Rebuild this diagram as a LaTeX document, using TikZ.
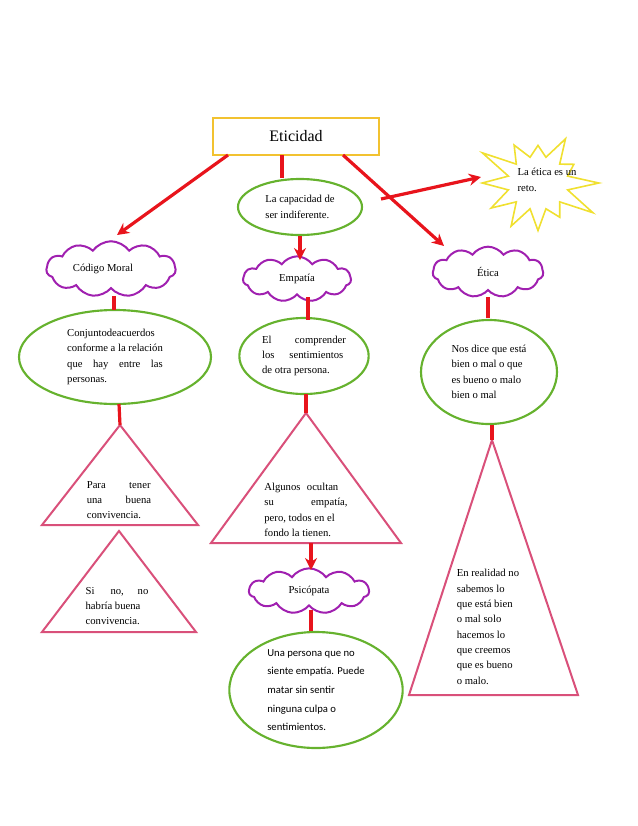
\documentclass[tikz,border=0pt]{standalone}
\usepackage{fontspec}
\setmainfont{Liberation Serif}
\newfontfamily\carl{Carlito}
\usetikzlibrary{shapes.geometric,shapes.symbols,arrows.meta}
\definecolor{gold}{HTML}{F2C230}
\definecolor{grn}{HTML}{66B22E}
\definecolor{purp}{HTML}{A020B0}
\definecolor{pink}{HTML}{D9507A}
\definecolor{rd}{HTML}{E8141C}
\definecolor{ylw}{HTML}{F0E030}
\begin{document}
\begin{tikzpicture}[x=0.75pt,y=-0.75pt,
  txt/.style={font=\fontsize{8}{11.5}\selectfont},
  ell/.style={ellipse,draw=grn,line width=1.6pt,inner sep=0pt,txt},
  cld/.style={cloud,cloud puffs=11,cloud puff arc=110,aspect=2.6,draw=purp,line width=1.5pt,inner sep=0pt,txt},
  tri/.style={draw=pink,line width=1.5pt,line join=miter},
  con/.style={draw=rd,line width=2.4pt},
  arr/.style={con,-{Stealth[length=9pt,width=9pt]}}]
\useasboundingbox (0,0) rectangle (638,826);
\node[draw=gold,line width=1.5pt,minimum width=124.5pt,minimum height=27.75pt,font=\fontsize{12}{14}\selectfont] (et) at (296,136.5) {Eticidad};
\node[starburst,starburst points=12,starburst point height=26pt,random starburst=3,draw=ylw,line width=1.2pt,minimum width=98pt,minimum height=92pt,inner sep=0pt] (star) at (538,183) {};
\node[txt,align=left] (startxt) at (547,180) {La ética es un\\reto.};
\node[ell,minimum width=93pt,minimum height=42pt,align=left] (cap) at (300,207) {La capacidad de\\ser indiferente.};
\node[cld,minimum width=97pt,minimum height=40pt] (cod) at (111,269) {Código Moral\hspace*{12pt}};
\node[cld,minimum width=81pt,minimum height=34pt] (emp) at (297,279) {Empatía};
\node[cld,minimum width=83pt,minimum height=38pt] (eti) at (488,272) {Ética};
\node[ell,minimum width=144pt,minimum height=70.5pt,align=left] (conj) at (115,357) {Conjunto\hfill de\hfill acuerdos\\conforme a la relación\\que\hfill hay\hfill entre\hfill las\\personas.};
\node[ell,minimum width=97pt,minimum height=57pt,align=left] (comp) at (304,356) {El\hspace{2.2em}comprender\\los\hspace{1.4em}sentimientos\\de otra persona.};
\node[ell,minimum width=102pt,minimum height=78pt,align=left] (nos) at (489,372) {Nos dice que está\\bien o mal o que\\es bueno o malo\\bien o mal};
\node[cld,minimum width=90pt,minimum height=34pt] (psi) at (309,591) {Psicópata};
\node[ell,minimum width=130pt,minimum height=87pt,align=left,font=\carl\fontsize{8}{14}\selectfont] (una) at (316,690) {Una persona que no\\siente empatía. Puede\\matar sin sentir\\ninguna culpa o\\sentimientos.};
% triangles
\coordinate (t1a) at (120,425);
\draw[tri] (t1a) -- (198,525) -- (42,525) -- cycle;
\node[txt,align=left] (t1t) at (119,500) {Para\hspace{2.2em}tener\\una\hspace{2.2em}buena\\convivencia.};
\coordinate (t2a) at (119,531);
\draw[tri] (t2a) -- (196,632) -- (42,632) -- cycle;
\node[txt,align=left] (t2t) at (117,606) {Si\hspace{1.5em}no,\hspace{1.3em}no\\habría buena\\convivencia.};
\coordinate (t3a) at (306,413); \coordinate (t3b) at (311,543);
\draw[tri] (t3a) -- (401,543) -- (211,543) -- cycle;
\node[txt,align=left] (t3t) at (306,510) {Algunos\hspace{0.6em}ocultan\\su\hspace{3.5em}empatía,\\pero, todos en el\\fondo la tienen.};
\coordinate (t4a) at (492,440);
\draw[tri] (t4a) -- (578,695) -- (409,695) -- cycle;
\node[txt,align=left] (t4t) at (488,627) {En realidad no\\sabemos lo\\que está bien\\o mal solo\\hacemos lo\\que creemos\\que es bueno\\o malo.};
% connectors
\coordinate (e1) at (228,155); \coordinate (e2) at (282,155); \coordinate (e3) at (343,155);
\coordinate (a1) at (117,235); \coordinate (a3) at (444,246); \coordinate (br) at (381,199); \coordinate (a4) at (481,177);
\draw[arr] (e1) -- (a1);
\draw[con] (e2) -- (cap.north -| e2);
\draw[arr] (cap.south) -- ++(0,24);
\draw[arr] (e3) -- (a3);
\draw[arr] (br) -- (a4);
\draw[con] (114,296) -- (114,310);
\draw[con] (119,404) -- (t1a);
\draw[con] (308,297) -- (308,320);
\draw[con] (306,394) -- (t3a);
\draw[arr] (t3b) -- (311,570);
\draw[con] (311,610) -- (una.north -| 311,0);
\draw[con] (488,297) -- (488,318);
\draw[con] (nos.south -| t4a) -- (t4a);
\end{tikzpicture}
\end{document}
